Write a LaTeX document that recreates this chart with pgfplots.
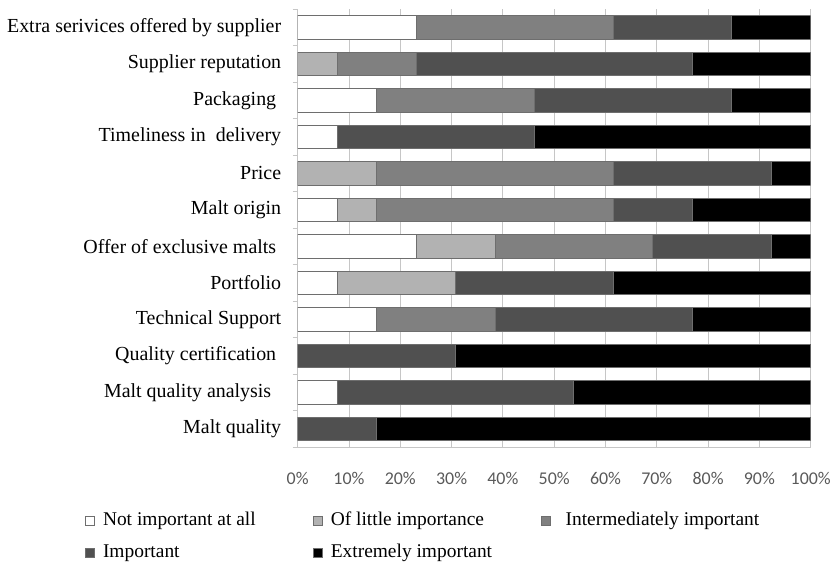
\documentclass[border=0pt]{standalone}
\usepackage{pgfplots}
\pgfplotsset{compat=1.18}
\usepackage{pgfplotstable}
\usepackage{fontspec}
\setmainfont{Liberation Serif}
\newfontfamily\carlito{Carlito}

\definecolor{cNot}{HTML}{FFFFFF}
\definecolor{cLittle}{HTML}{B2B2B2}
\definecolor{cInter}{HTML}{808080}
\definecolor{cImp}{HTML}{505050}
\definecolor{cExt}{HTML}{000000}
\definecolor{edge}{HTML}{6E6E6E}
\definecolor{gridc}{HTML}{C6C6C6}
\definecolor{ticktext}{HTML}{595959}

% share of respondents (%) per rating, one row per attribute, top to bottom
\pgfplotstableread{
idx  n      l      i      imp    ext
0    23.08  0      38.46  23.08  15.38
1    0      7.69   15.38  53.85  23.08
2    15.38  0      30.77  38.46  15.38
3    7.69   0      0      38.46  53.85
4    0      15.38  46.15  30.77  7.69
5    7.69   7.69   46.15  15.38  23.08
6    23.08  15.38  30.77  23.08  7.69
7    7.69   23.08  0      30.77  38.46
8    15.38  0      23.08  38.46  23.08
9    0      0      0      30.77  69.23
10   7.69   0      0      46.15  46.15
11   0      0      0      15.38  84.62
}\ratings

\begin{document}
\begin{tikzpicture}
\useasboundingbox (-297.7bp,-116bp) rectangle (535.3bp,447bp);
\begin{axis}[
  scale only axis,
  width=513bp, height=437.7bp,
  xbar stacked,
  bar width=23.5bp,
  y dir=reverse,
  xmin=0, xmax=100,
  ymin=-0.5, ymax=11.5,
  axis x line*=bottom,
  axis y line*=left,
  axis line style={draw=gridc, line width=0.9bp},
  xtick={0,10,...,100},
  xticklabels={0\%,10\%,20\%,30\%,40\%,50\%,60\%,70\%,80\%,90\%,100\%},
  xticklabel style={font=\carlito\fontsize{18}{20}\selectfont, text=ticktext, yshift=-22bp},
  xmajorgrids,
  major grid style={draw=gridc, line width=0.9bp},
  major tick length=0pt,
  ytick={0,...,11},
  yticklabels={
    Extra serivices offered by supplier,
    Supplier reputation,
    Packaging\hspace*{5bp},
    Timeliness in\ \ delivery,
    Price,
    Malt origin,
    Offer of exclusive malts\hspace*{5bp},
    Portfolio,
    Technical Support,
    Quality certification\hspace*{5bp},
    Malt quality analysis\hspace*{10bp},
    Malt quality},
  yticklabel style={font=\fontsize{20}{23}\selectfont, xshift=-13bp},
  minor ytick={-0.5,0.5,...,11.5},
  minor tick length=5bp,
  tick align=outside,
  minor tick style={draw=gridc, line width=0.9bp},
  every axis plot/.append style={draw=edge, line width=0.8bp},
  legend columns=3,
  legend style={
    at={(-0.4146,-0.147)}, anchor=north west,
    draw=none, fill=none, inner sep=0pt,
    row sep=13.5bp,
    font=\fontsize{19.5}{22}\selectfont,
    nodes={inner sep=0pt, text height=14bp, text depth=4.5bp},
    /tikz/every odd column/.style={column sep=8bp},
  },
  legend cell align=left,
  legend image code/.code={\draw[#1, draw=edge, line width=0.8bp] (0bp,-4.5bp) rectangle (9bp,4.5bp);},
]
\addplot[fill=cNot]    table[x=n,   y=idx] {\ratings};
\addplot[fill=cLittle] table[x=l,   y=idx] {\ratings};
\addplot[fill=cInter]  table[x=i,   y=idx] {\ratings};
\addplot[fill=cImp]    table[x=imp, y=idx] {\ratings};
\addplot[fill=cExt]    table[x=ext, y=idx] {\ratings};
\legend{
  \makebox[210bp][l]{Not important at all},
  \makebox[210bp][l]{Of little importance},
  \hspace*{7bp}Intermediately important,
  \makebox[210bp][l]{Important},
  \makebox[210bp][l]{Extremely important}}
\end{axis}
\end{tikzpicture}
\end{document}
